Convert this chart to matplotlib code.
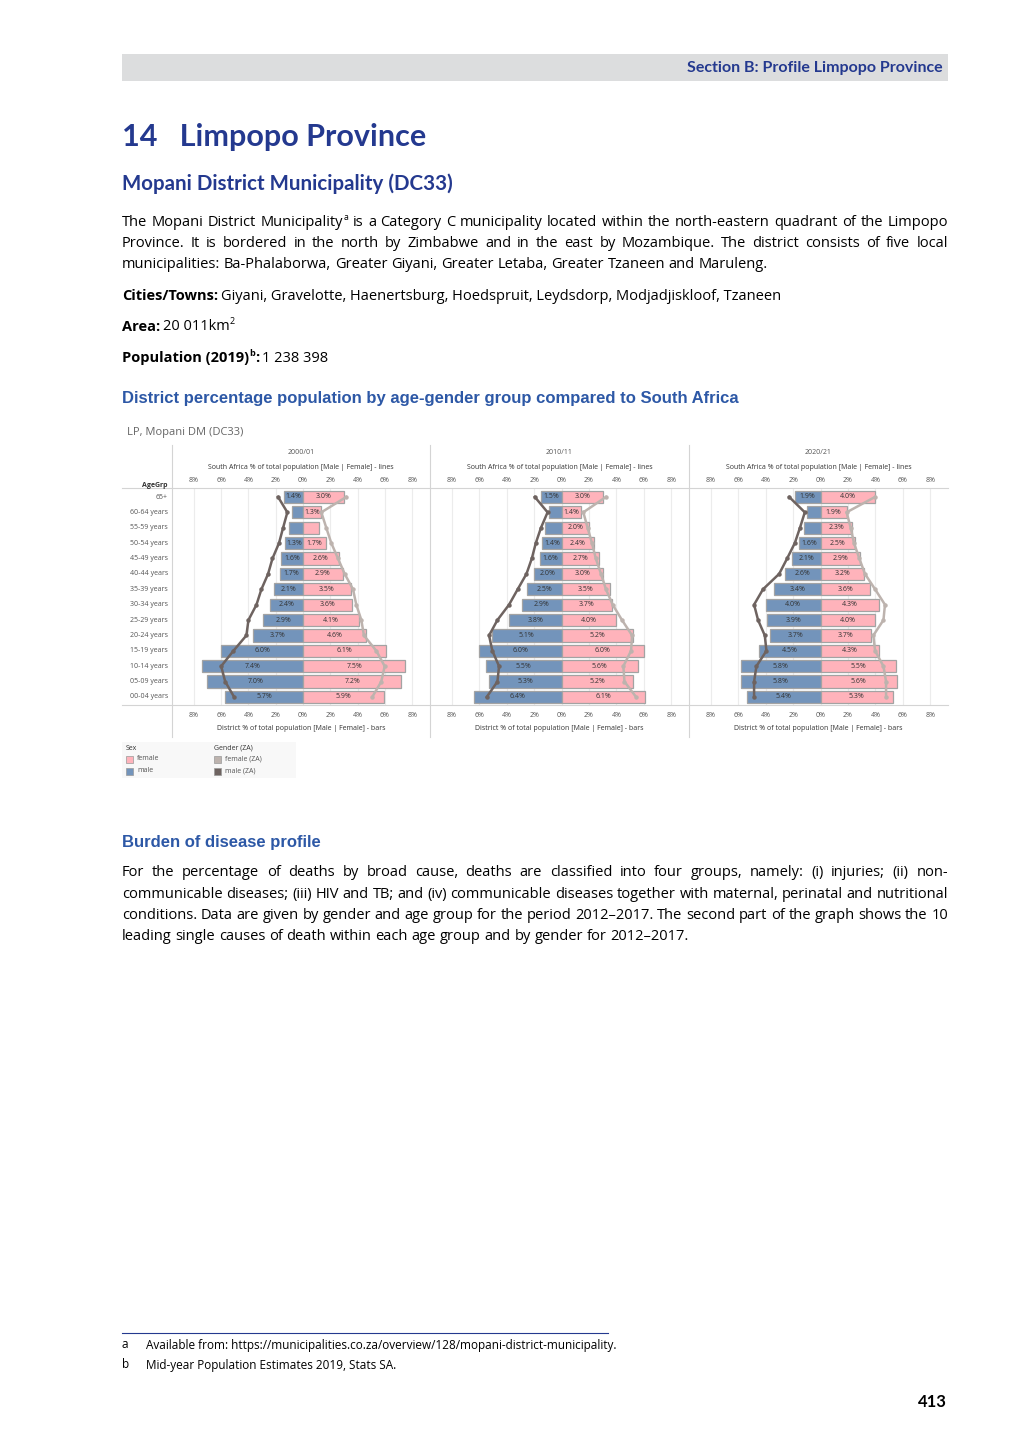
import matplotlib
matplotlib.use("Agg")
import matplotlib.pyplot as plt
from matplotlib.patches import Rectangle
from matplotlib.lines import Line2D
import numpy as np

# ---- data ----
age_groups = ["65+", "60-64 years", "55-59 years", "50-54 years", "45-49 years",
              "40-44 years", "35-39 years", "30-34 years", "25-29 years",
              "20-24 years", "15-19 years", "10-14 years", "05-09 years", "00-04 years"]
periods = ["2000/01", "2010/11", "2020/21"]

# district % of total population - bars
male_2000 = [1.4, 0.8, 1.05, 1.3, 1.6, 1.7, 2.1, 2.4, 2.9, 3.7, 6.0, 7.4, 7.0, 5.7]
female_2000 = [3.0, 1.3, 1.17, 1.7, 2.6, 2.9, 3.5, 3.6, 4.1, 4.6, 6.1, 7.5, 7.2, 5.9]
male_2010 = [1.5, 0.95, 1.24, 1.4, 1.6, 2.0, 2.5, 2.9, 3.8, 5.1, 6.0, 5.5, 5.3, 6.4]
female_2010 = [3.0, 1.4, 2.0, 2.4, 2.7, 3.0, 3.5, 3.7, 4.0, 5.2, 6.0, 5.6, 5.2, 6.1]
male_2020 = [1.9, 0.98, 1.2, 1.6, 2.1, 2.6, 3.4, 4.0, 3.9, 3.7, 4.5, 5.8, 5.8, 5.4]
female_2020 = [4.0, 1.9, 2.3, 2.5, 2.9, 3.2, 3.6, 4.3, 4.0, 3.7, 4.3, 5.5, 5.6, 5.3]

# South Africa % of total population - lines
za_male_2000 = [1.83, 1.15, 1.46, 1.76, 2.24, 2.56, 3.05, 3.41, 4.0, 4.15, 5.1, 6.0, 5.7, 5.05]
za_female_2000 = [3.17, 1.34, 1.7, 2.07, 2.56, 3.05, 3.66, 3.9, 4.27, 4.46, 5.37, 5.98, 5.73, 5.07]
za_male_2010 = [1.95, 1.02, 1.5, 1.88, 2.17, 2.56, 3.2, 3.83, 4.68, 5.29, 5.05, 4.56, 4.68, 5.46]
za_female_2010 = [3.24, 1.59, 1.9, 2.22, 2.5, 2.88, 3.24, 3.73, 4.41, 5.15, 5.07, 4.51, 4.59, 5.44]
za_male_2020 = [2.29, 1.15, 1.5, 1.88, 2.44, 3.02, 4.2, 4.85, 4.56, 4.07, 3.95, 4.68, 4.85, 4.85]
za_female_2020 = [3.98, 1.9, 2.2, 2.44, 2.83, 3.24, 3.98, 4.7, 4.59, 3.85, 3.98, 4.59, 4.78, 4.78]

male_bars = [male_2000, male_2010, male_2020]
female_bars = [female_2000, female_2010, female_2020]
za_male = [za_male_2000, za_male_2010, za_male_2020]
za_female = [za_female_2000, za_female_2010, za_female_2020]
label_min = 1.25  # smaller bars carry no label in the reference

W, H = 1020, 1442
NAVY = "#24398f"
BLUE = "#2d58a6"
GREY_TXT = "#555555"
MALE_C = "#7394bb"
FEMALE_C = "#ffb3bb"
ZA_MALE_C = "#6e6360"
ZA_FEMALE_C = "#bdb3ae"
BODY_FONT = "Open Sans"
HEAD_FONT = "Lato"
CH_FONT = "Open Sans"
BODY_SIZE = 10.5

fig = plt.figure(figsize=(W / 100, H / 100), dpi=100)
fig.patch.set_facecolor("white")


def fx(x):
    return x / W


def fy(y):
    return 1 - y / H


def put(x, y, s, **kw):
    kw.setdefault("family", BODY_FONT)
    kw.setdefault("va", "center")
    return fig.text(fx(x), fy(y), s, **kw)


renderer = fig.canvas.get_renderer()


def width_of(t):
    return t.get_window_extent(renderer).width


def justified(line, y, x0=122, x1=948, size=BODY_SIZE, justify=True):
    # words with "^" get a superscript part, e.g. "Municipality^a"
    words = line.split(" ")
    pieces = []
    for w in words:
        if "^" in w:
            base, sup = w.split("^")
            t1 = put(x0, y, base, fontsize=size)
            t2 = put(x0, y - 5, sup, fontsize=size * 0.6)
            pieces.append([(t1, 0), (t2, width_of(t1) + 0.5)])
        else:
            t = put(x0, y, w, fontsize=size)
            pieces.append([(t, 0)])
    widths = []
    for p in pieces:
        last_t, off = p[-1]
        widths.append(off + width_of(last_t))
    ta = put(x0, y, "a a", fontsize=size)
    tb = put(x0, y, "aa", fontsize=size)
    space = width_of(ta) - width_of(tb)
    ta.remove()
    tb.remove()
    if justify and len(pieces) > 1:
        space = (x1 - x0 - sum(widths)) / (len(pieces) - 1)
    x = x0
    for p, wdt in zip(pieces, widths):
        for t, off in p:
            t.set_x(fx(x + off))
        x += wdt + space


# ---- page header ----
fig.add_artist(Rectangle((fx(122), fy(81)), fx(948) - fx(122), fy(54) - fy(81),
                         transform=fig.transFigure, color="#dcddde", lw=0))
put(943, 68, "Section B: Profile Limpopo Province", ha="right", fontsize=11.5,
    weight="bold", color=NAVY, family=HEAD_FONT)
put(122, 137, "14   Limpopo Province", fontsize=22, weight="bold", color=NAVY, family=HEAD_FONT)
put(122, 184, "Mopani District Municipality (DC33)", fontsize=14.8, weight="bold", color=NAVY,
    family=HEAD_FONT)

para1 = ["The Mopani District Municipality^a is a Category C municipality located within the north-eastern quadrant of the Limpopo",
         "Province. It is bordered in the north by Zimbabwe and in the east by Mozambique. The district consists of five local",
         "municipalities: Ba-Phalaborwa, Greater Giyani, Greater Letaba, Greater Tzaneen and Maruleng."]
for i, ln in enumerate(para1):
    justified(ln, 222 + 21.3 * i, justify=i < len(para1) - 1)

t = put(122, 296, "Cities/Towns:", fontsize=BODY_SIZE, weight="bold")
put(122 + width_of(t) + 3, 296, "Giyani, Gravelotte, Haenertsburg, Hoedspruit, Leydsdorp, Modjadjiskloof, Tzaneen",
    fontsize=BODY_SIZE)
t = put(122, 327, "Area:", fontsize=BODY_SIZE, weight="bold")
t2 = put(122 + width_of(t) + 3, 327, "20 011km", fontsize=BODY_SIZE)
put(122 + width_of(t) + 3 + width_of(t2), 322, "2", fontsize=6.5)
t = put(122, 358, "Population (2019)", fontsize=BODY_SIZE, weight="bold")
xb = 122 + width_of(t)
tb = put(xb, 353, "b", fontsize=6.5, weight="bold")
tc = put(xb + width_of(tb), 358, ":", fontsize=BODY_SIZE, weight="bold")
put(xb + width_of(tb) + width_of(tc) + 3, 358, "1 238 398", fontsize=BODY_SIZE)

put(122, 398, "District percentage population by age-gender group compared to South Africa",
    fontsize=12, weight="bold", color=BLUE, family="Liberation Sans")
put(127, 432, "LP, Mopani DM (DC33)", fontsize=8, color="#666666")

# ---- chart ----
panel_x = [172, 430, 689, 948]
top_y, bot_y = 488, 705
ypos = np.arange(len(age_groups))

for k, per in enumerate(periods):
    left, right = panel_x[k], panel_x[k + 1]
    ax = fig.add_axes([fx(left), fy(bot_y), fx(right) - fx(left), fy(top_y) - fy(bot_y)])
    ax.set_xlim(-9.6, 9.3)
    ax.set_ylim(len(age_groups) - 0.48, -0.58)
    ax.set_facecolor("none")
    for s in ax.spines.values():
        s.set_visible(False)
    ticks = [-8, -6, -4, -2, 0, 2, 4, 6, 8]
    tlabels = [f"{abs(v)}%" for v in ticks]
    ax.set_xticks(ticks, tlabels)
    ax.set_yticks([])
    ax.tick_params(axis="x", length=0, labelsize=5, labelcolor=GREY_TXT, pad=5)
    for lab in ax.get_xticklabels():
        lab.set_family(CH_FONT)
    sec = ax.secondary_xaxis("top")
    sec.set_xticks(ticks, tlabels)
    sec.tick_params(axis="x", length=0, labelsize=5, labelcolor=GREY_TXT, pad=3)
    sec.spines["top"].set_visible(False)
    for lab in sec.get_xticklabels():
        lab.set_family(CH_FONT)
    ax.grid(axis="x", color="#ececec", lw=0.8)
    ax.set_axisbelow(True)

    m = np.array(male_bars[k])
    f = np.array(female_bars[k])
    ax.barh(ypos, -m, height=0.8, color=MALE_C, edgecolor="#a3a3a3", lw=0.9, zorder=2)
    ax.barh(ypos, f, height=0.8, color=FEMALE_C, edgecolor="#a3a3a3", lw=0.9, zorder=2)
    for i in ypos:
        if m[i] >= label_min:
            ax.text(-m[i] / 2, i, f"{m[i]:.1f}%", ha="center", va="center", fontsize=5,
                    color="#333333", family=CH_FONT, zorder=3)
        if f[i] >= label_min:
            ax.text(f[i] / 2, i, f"{f[i]:.1f}%", ha="center", va="center", fontsize=5,
                    color="#333333", family=CH_FONT, zorder=3)
    ax.plot(-np.array(za_male[k]), ypos, color=ZA_MALE_C, lw=1.8, marker="o", ms=2.2, zorder=4)
    ax.plot(np.array(za_female[k]), ypos, color=ZA_FEMALE_C, lw=1.8, marker="o", ms=2.2, zorder=4)

    cx = (left + right) / 2
    put(cx, 452, per, ha="center", fontsize=5, color=GREY_TXT, family=CH_FONT)
    put(cx, 467, "South Africa % of total population [Male | Female] - lines", ha="center",
        fontsize=5, color="#333333", family=CH_FONT)
    put(cx, 728, "District % of total population [Male | Female] - bars", ha="center",
        fontsize=5, color="#333333", family=CH_FONT)

for i, ag in enumerate(age_groups):
    put(168, 497 + i * 15.38, ag, ha="right", fontsize=5, color=GREY_TXT, family=CH_FONT)
put(168, 485, "AgeGrp", ha="right", fontsize=5, weight="bold", color="#333333", family=CH_FONT)

for yy in (top_y, bot_y):
    fig.add_artist(Line2D([fx(122), fx(948)], [fy(yy), fy(yy)], transform=fig.transFigure,
                          color="#d4d4d4", lw=0.8))
for xx in panel_x[:3]:
    fig.add_artist(Line2D([fx(xx), fx(xx)], [fy(445), fy(737)], transform=fig.transFigure,
                          color="#d4d4d4", lw=0.8))

# legend
fig.add_artist(Rectangle((fx(122), fy(778)), fx(296) - fx(122), fy(742) - fy(778),
                         transform=fig.transFigure, color="#f8f8f8", lw=0))
put(126, 748, "Sex", fontsize=5, color="#333333", family=CH_FONT)
put(214, 748, "Gender (ZA)", fontsize=5, color="#333333", family=CH_FONT)
legend_items = [(126, 759, FEMALE_C, "female"), (126, 771, MALE_C, "male"),
                (214, 759, ZA_FEMALE_C, "female (ZA)"), (214, 771, ZA_MALE_C, "male (ZA)")]
for lx, ly, col, lab in legend_items:
    fig.add_artist(Rectangle((fx(lx), fy(ly + 3.5)), fx(7), 7 / H, transform=fig.transFigure,
                             facecolor=col, edgecolor="#999999", lw=0.5))
    put(lx + 11, ly, lab, fontsize=5, color=GREY_TXT, family=CH_FONT)

# ---- burden of disease ----
put(122, 842, "Burden of disease profile", fontsize=12, weight="bold", color=BLUE,
    family="Liberation Sans")
para2 = ["For the percentage of deaths by broad cause, deaths are classified into four groups, namely: (i) injuries; (ii) non-",
         "communicable diseases; (iii) HIV and TB; and (iv) communicable diseases together with maternal, perinatal and nutritional",
         "conditions. Data are given by gender and age group for the period 2012\u20132017. The second part of the graph shows the 10",
         "leading single causes of death within each age group and by gender for 2012\u20132017."]
for i, ln in enumerate(para2):
    justified(ln, 873 + 21.3 * i, justify=i < len(para2) - 1)

# ---- footnotes ----
fig.add_artist(Line2D([fx(122), fx(608)], [fy(1333), fy(1333)], transform=fig.transFigure,
                      color=NAVY, lw=0.8))
put(122, 1345, "a", fontsize=8.5)
put(146, 1345, "Available from: https://municipalities.co.za/overview/128/mopani-district-municipality.", fontsize=8.5)
put(122, 1365, "b", fontsize=8.5)
put(146, 1365, "Mid-year Population Estimates 2019, Stats SA.", fontsize=8.5)
put(947, 1402, "413", ha="right", fontsize=12, weight="bold", family=HEAD_FONT)

fig.savefig("out.png", dpi=100)
